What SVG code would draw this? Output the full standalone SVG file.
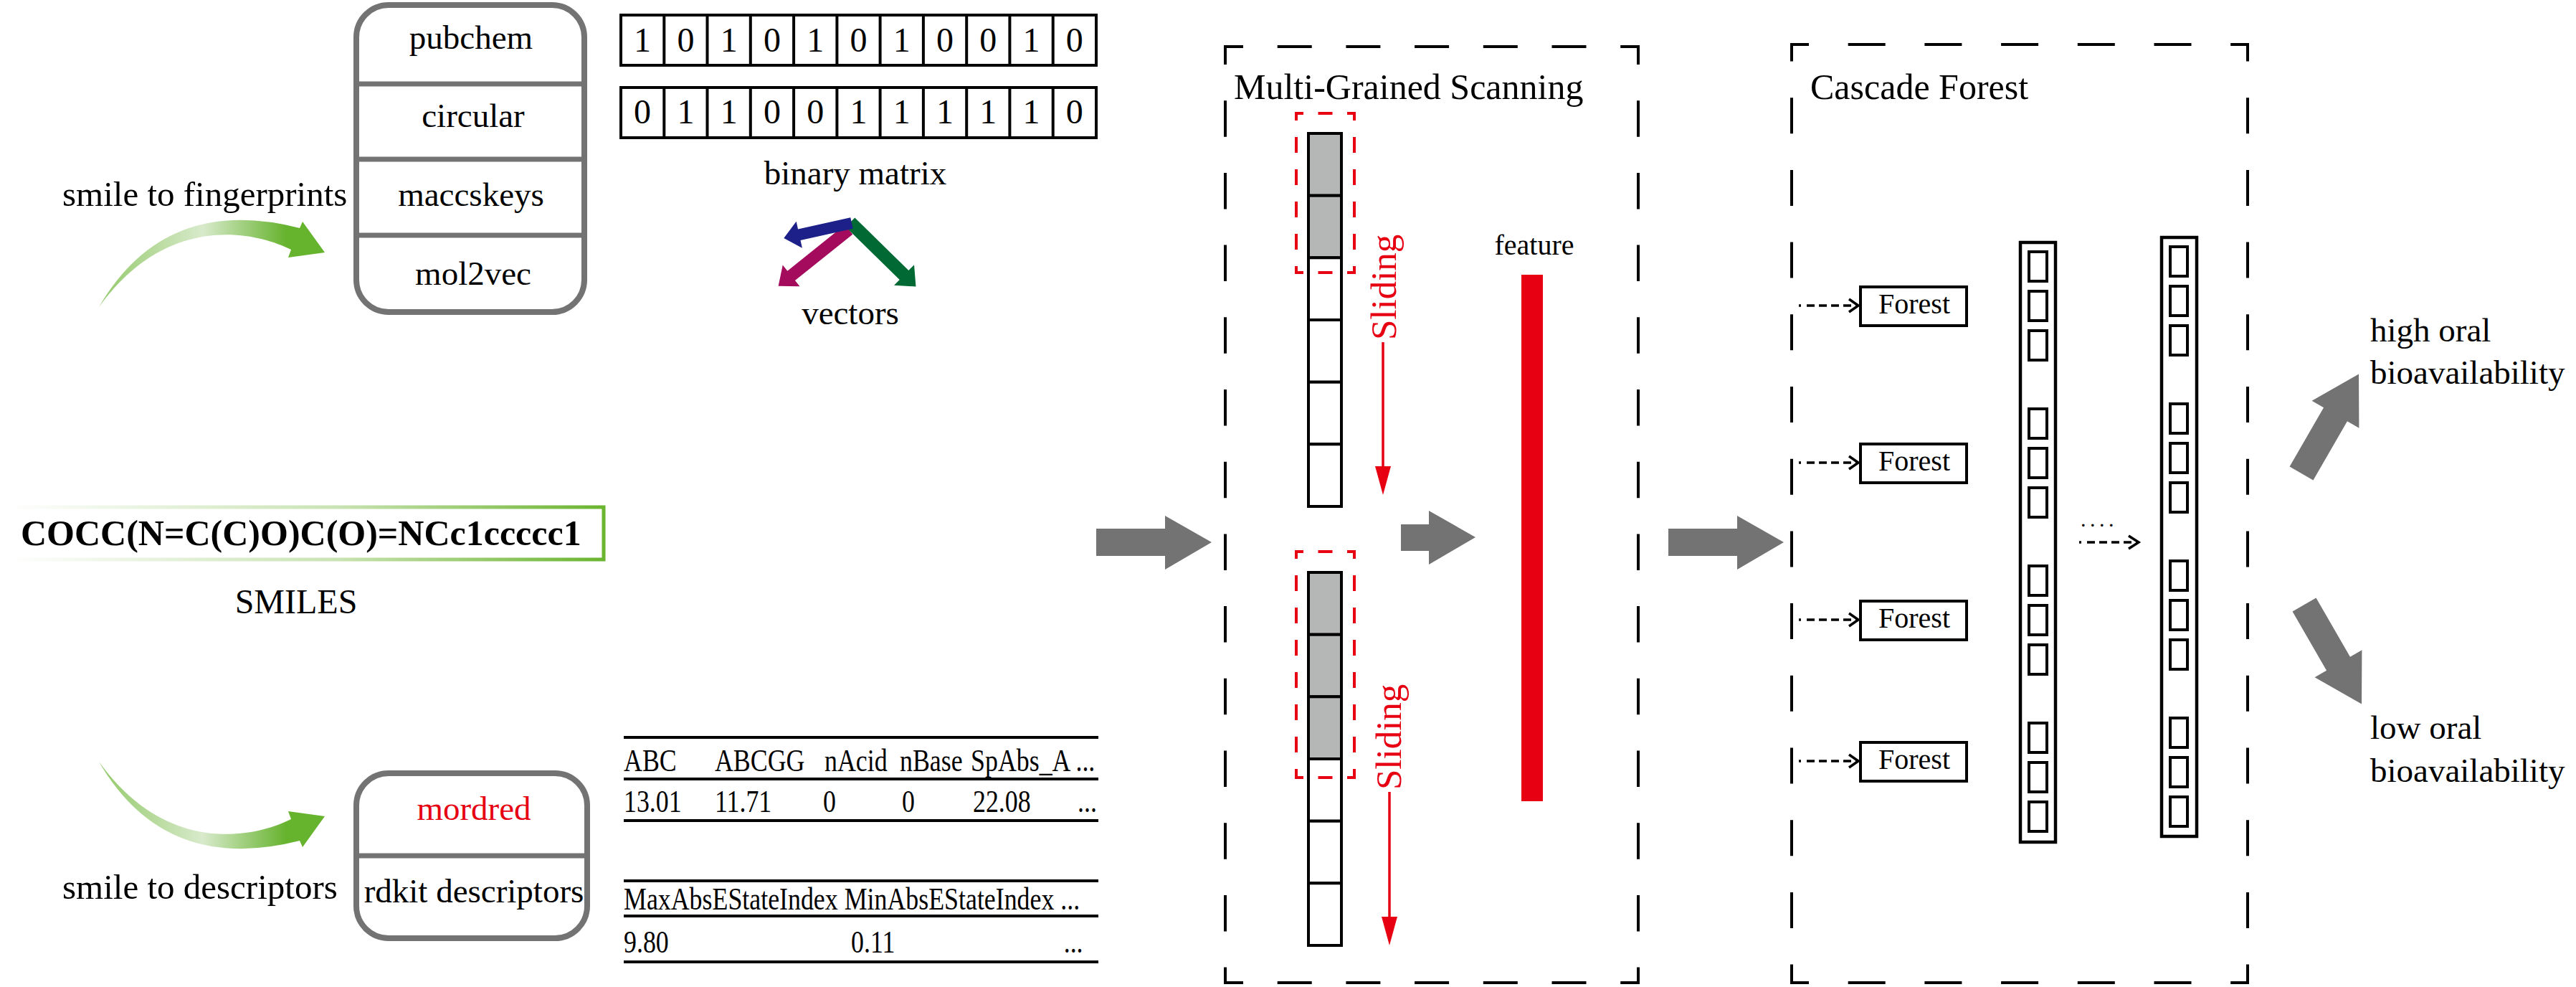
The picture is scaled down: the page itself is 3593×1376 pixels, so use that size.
<svg xmlns="http://www.w3.org/2000/svg" width="3593" height="1376" viewBox="0 0 3593 1376">
<style>
.t{font-family:"Liberation Serif","Times New Roman",serif;fill:#000}
.c{text-anchor:middle}
.f47{font-size:47px}
.f49{font-size:49px}
.f48{font-size:48px}
.f50{font-size:50px}
.f40{font-size:40px}
.red{fill:#e60012}
.gbox{fill:#fff;stroke:#737373;stroke-width:8}
.gdiv{stroke:#737373;stroke-width:7}
.cell{fill:#fff;stroke:#000;stroke-width:4}
.gcell{fill:#b5b6b6;stroke:#000;stroke-width:4}
.bin{fill:none;stroke:#000;stroke-width:4}
.rule{stroke:#000;stroke-width:4}
.dh1{stroke:#000;stroke-width:4;fill:none;stroke-dasharray:48 47.7;stroke-dashoffset:21}
.dv1{stroke:#000;stroke-width:4;fill:none;stroke-dasharray:50.5 50.2;stroke-dashoffset:23.5}
.dh2{stroke:#000;stroke-width:4;fill:none;stroke-dasharray:52 54.7;stroke-dashoffset:26}
.dv2{stroke:#000;stroke-width:4;fill:none;stroke-dasharray:50 50.7;stroke-dashoffset:24.5}
.rh{stroke:#e60012;stroke-width:4;fill:none;stroke-dasharray:20 20.5;stroke-dashoffset:8}
.rv{stroke:#e60012;stroke-width:4;fill:none;stroke-dasharray:22 23;stroke-dashoffset:10}
.gray{fill:#737373}
.dot{stroke:#000;stroke-width:3.5;fill:none;stroke-dasharray:3 8 11 6 11 6 11 6 11 6 11 6}
.chev{stroke:#000;stroke-width:3.5;fill:none}
.fbox{fill:#fff;stroke:#000;stroke-width:4}
.col{fill:#fff;stroke:#000;stroke-width:4.5}
.ccell{fill:#fff;stroke:#000;stroke-width:4}
</style>
<defs>
<linearGradient id="gArrow" gradientUnits="userSpaceOnUse" x1="138" y1="0" x2="453" y2="0">
<stop offset="0" stop-color="#93c96a"/>
<stop offset="0.46" stop-color="#d8eacb"/>
<stop offset="0.83" stop-color="#66b32e"/>
<stop offset="1" stop-color="#66b32e"/>
</linearGradient>
<linearGradient id="gSmiles" gradientUnits="userSpaceOnUse" x1="11" y1="0" x2="844" y2="0">
<stop offset="0" stop-color="#ffffff"/>
<stop offset="0.55" stop-color="#c9e3b3"/>
<stop offset="1" stop-color="#6ab42e"/>
</linearGradient>
<path id="curveArrow" d="M138,428 Q230,270 418,318 L422,309 L453,352 L402,359 L406,348 C350,320 230,300 138,428 Z"/>
<polygon id="bigArrow" points="0,-19 95,-19 95,-38 160,0 95,38 95,19 0,19"/>
<polygon id="grayRight" points="0,-19 96,-19 96,-37 161,0 96,38 96,19 0,19"/>
</defs>
<rect width="3593" height="1376" fill="#fff"/>

<g id="fingerprints">
<rect class="gbox" x="497" y="7" width="318" height="428" rx="45" ry="45"/>
<line class="gdiv" x1="497" y1="117" x2="815" y2="117"/>
<line class="gdiv" x1="497" y1="222" x2="815" y2="222"/>
<line class="gdiv" x1="497" y1="328" x2="815" y2="328"/>
<text class="t f47 c" x="657" y="68">pubchem</text>
<text class="t f47 c" x="660" y="177">circular</text>
<text class="t f47 c" x="657" y="287">maccskeys</text>
<text class="t f47 c" x="660" y="397">mol2vec</text>
</g>

<g id="label-fingerprints">
<text class="t f49" x="87" y="287">smile to fingerprints</text>
<use href="#curveArrow" fill="url(#gArrow)"/>
</g>

<g id="binary-matrix">
<rect class="bin" x="866" y="21" width="663" height="70"/>
<rect class="bin" x="866" y="122" width="663" height="70"/>
<path class="bin" d="M926.3,21V91M986.5,21V91M1046.8,21V91M1107.1,21V91M1167.4,21V91M1227.6,21V91M1287.9,21V91M1348.2,21V91M1408.4,21V91M1468.7,21V91"/>
<path class="bin" d="M926.3,122V192M986.5,122V192M1046.8,122V192M1107.1,122V192M1167.4,122V192M1227.6,122V192M1287.9,122V192M1348.2,122V192M1408.4,122V192M1468.7,122V192"/>
<g class="t f48 c">
<text x="896.1" y="72">1</text><text x="956.4" y="72">0</text><text x="1016.7" y="72">1</text><text x="1077" y="72">0</text><text x="1137.2" y="72">1</text><text x="1197.5" y="72">0</text><text x="1257.8" y="72">1</text><text x="1318" y="72">0</text><text x="1378.3" y="72">0</text><text x="1438.6" y="72">1</text><text x="1498.8" y="72">0</text>
<text x="896.1" y="172">0</text><text x="956.4" y="172">1</text><text x="1016.7" y="172">1</text><text x="1077" y="172">0</text><text x="1137.2" y="172">0</text><text x="1197.5" y="172">1</text><text x="1257.8" y="172">1</text><text x="1318" y="172">1</text><text x="1378.3" y="172">1</text><text x="1438.6" y="172">1</text><text x="1498.8" y="172">0</text>
</g>
<text class="t f47 c" x="1193" y="257">binary matrix</text>
</g>

<g id="vectors">
<polygon fill="#a40b5d" transform="translate(1184,320) rotate(141.3)" points="0,-8.5 103,-8.5 103,-19 126,0 103,19 103,8.5 0,8.5"/>
<polygon fill="#006934" transform="translate(1186,310) rotate(44.4)" points="0,-9 105,-9 105,-20 128,0 105,20 105,9 0,9"/>
<polygon fill="#1d2088" transform="translate(1188,311) rotate(167.5)" points="0,-8 75,-8 75,-19 97,0 75,19 75,8 0,8"/>
<text class="t f47 c" x="1186" y="452">vectors</text>
</g>

<g id="smiles">
<path d="M11,707 H842 V780 H11" fill="none" stroke="url(#gSmiles)" stroke-width="5"/>
<text class="t" x="29" y="760" font-size="50" font-weight="bold">COCC(N=C(C)O)C(O)=NCc1ccccc1</text>
<text class="t f48 c" x="413" y="855">SMILES</text>
</g>

<g id="label-descriptors">
<use href="#curveArrow" fill="url(#gArrow)" transform="translate(0,1490) scale(1,-1)"/>
<text class="t f49" x="87" y="1253">smile to descriptors</text>
</g>

<g id="descriptors">
<rect class="gbox" x="497" y="1078" width="322" height="230" rx="45" ry="45"/>
<line class="gdiv" x1="497" y1="1193" x2="819" y2="1193"/>
<text class="t f47 c red" x="661" y="1143">mordred</text>
<text class="t f47 c" x="661" y="1258">rdkit descriptors</text>
</g>

<g id="descriptor-tables">
<line class="rule" x1="870" y1="1028" x2="1532" y2="1028"/>
<line class="rule" x1="870" y1="1086" x2="1532" y2="1086"/>
<line class="rule" x1="870" y1="1144" x2="1532" y2="1144"/>
<line class="rule" x1="870" y1="1228" x2="1532" y2="1228"/>
<line class="rule" x1="870" y1="1277" x2="1532" y2="1277"/>
<line class="rule" x1="870" y1="1341" x2="1532" y2="1341"/>
<g transform="translate(870,0) scale(0.815,1)" class="t" font-size="44">
<text x="0" y="1075">ABC</text>
<text x="155.8" y="1075">ABCGG</text>
<text x="343.6" y="1075">nAcid</text>
<text x="472.4" y="1075">nBase</text>
<text x="593.9" y="1075">SpAbs_A ...</text>
<text x="0" y="1132">13.01</text>
<text x="155.8" y="1132">11.71</text>
<text x="341" y="1132">0</text>
<text x="476" y="1132">0</text>
<text x="597.5" y="1132">22.08</text>
<text x="776.7" y="1132">...</text>
<text x="0" y="1268">MaxAbsEStateIndex MinAbsEStateIndex ...</text>
<text x="0" y="1328">9.80</text>
<text x="389" y="1328">0.11</text>
<text x="753" y="1328">...</text>
</g>
</g>

<g id="multi-grained-scanning">
<line class="dh1" x1="1707" y1="65" x2="2287" y2="65"/>
<line class="dh1" x1="1707" y1="1370" x2="2287" y2="1370"/>
<line class="dv1" x1="1709" y1="63" x2="1709" y2="1372"/>
<line class="dv1" x1="2285" y1="63" x2="2285" y2="1372"/>
<text class="t f50" x="1721" y="138">Multi-Grained Scanning</text>
</g>

<g id="scan-column-1">
<rect class="gcell" x="1825" y="186" width="46" height="86.7"/>
<rect class="gcell" x="1825" y="272.7" width="46" height="86.6"/>
<rect class="cell" x="1825" y="359.3" width="46" height="86.7"/>
<rect class="cell" x="1825" y="446" width="46" height="86.7"/>
<rect class="cell" x="1825" y="532.7" width="46" height="86.6"/>
<rect class="cell" x="1825" y="619.3" width="46" height="86.7"/>
<line class="rh" x1="1806" y1="158" x2="1891" y2="158"/>
<line class="rh" x1="1806" y1="380" x2="1891" y2="380"/>
<line class="rv" x1="1808" y1="156" x2="1808" y2="382"/>
<line class="rv" x1="1889" y1="156" x2="1889" y2="382"/>
<text class="t red" font-size="51" transform="translate(1947,474) rotate(-90)">Sliding</text>
<line x1="1929" y1="477" x2="1929" y2="655" stroke="#e60012" stroke-width="3.5"/>
<polygon class="red" points="1918,650 1940,650 1929,690"/>
</g>

<g id="scan-column-2">
<rect class="gcell" x="1825" y="798" width="46" height="86.7"/>
<rect class="gcell" x="1825" y="884.7" width="46" height="86.6"/>
<rect class="gcell" x="1825" y="971.3" width="46" height="86.7"/>
<rect class="cell" x="1825" y="1058" width="46" height="86.7"/>
<rect class="cell" x="1825" y="1144.7" width="46" height="86.6"/>
<rect class="cell" x="1825" y="1231.3" width="46" height="86.7"/>
<line class="rh" x1="1806" y1="769" x2="1891" y2="769"/>
<line class="rh" x1="1806" y1="1084" x2="1891" y2="1084"/>
<line class="rv" x1="1808" y1="767" x2="1808" y2="1086"/>
<line class="rv" x1="1889" y1="767" x2="1889" y2="1086"/>
<text class="t red" font-size="51" transform="translate(1954,1101) rotate(-90)">Sliding</text>
<line x1="1938" y1="1104" x2="1938" y2="1283" stroke="#e60012" stroke-width="3.5"/>
<polygon class="red" points="1927,1278 1949,1278 1938,1318"/>
</g>

<g id="feature">
<text class="t f40 c" x="2140" y="355">feature</text>
<rect x="2122" y="383" width="30" height="734" fill="#e60012"/>
</g>

<g id="cascade-forest">
<line class="dh2" x1="2497" y1="62" x2="3137" y2="62"/>
<line class="dh2" x1="2497" y1="1370" x2="3137" y2="1370"/>
<line class="dv2" x1="2499" y1="60" x2="2499" y2="1372"/>
<line class="dv2" x1="3135" y1="60" x2="3135" y2="1372"/>
<text class="t f50" x="2525" y="138">Cascade Forest</text>
</g>

<g id="forest-1">
<rect class="fbox" x="2595" y="400" width="148" height="54"/>
<text class="t f40 c" x="2670" y="437">Forest</text>
</g>
<g id="forest-2">
<rect class="fbox" x="2595" y="619" width="148" height="54"/>
<text class="t f40 c" x="2670" y="656">Forest</text>
</g>
<g id="forest-3">
<rect class="fbox" x="2595" y="838" width="148" height="54"/>
<text class="t f40 c" x="2670" y="875">Forest</text>
</g>
<g id="forest-4">
<rect class="fbox" x="2595" y="1035" width="148" height="54"/>
<text class="t f40 c" x="2670" y="1072">Forest</text>
</g>

<g id="layer-1">
<rect class="col" x="2818" y="338" width="49" height="836"/>
<rect class="ccell" x="2830" y="351" width="25" height="41"/>
<rect class="ccell" x="2830" y="406" width="25" height="41"/>
<rect class="ccell" x="2830" y="461" width="25" height="41"/>
<rect class="ccell" x="2830" y="570" width="25" height="41"/>
<rect class="ccell" x="2830" y="625" width="25" height="41"/>
<rect class="ccell" x="2830" y="680" width="25" height="41"/>
<rect class="ccell" x="2830" y="789" width="25" height="41"/>
<rect class="ccell" x="2830" y="844" width="25" height="41"/>
<rect class="ccell" x="2830" y="899" width="25" height="41"/>
<rect class="ccell" x="2830" y="1008" width="25" height="41"/>
<rect class="ccell" x="2830" y="1063" width="25" height="41"/>
<rect class="ccell" x="2830" y="1118" width="25" height="41"/>
</g>

<g id="layer-2">
<rect class="col" x="3015" y="331" width="49" height="835"/>
<rect class="ccell" x="3027" y="344" width="24" height="41"/>
<rect class="ccell" x="3027" y="399" width="24" height="41"/>
<rect class="ccell" x="3027" y="454" width="24" height="41"/>
<rect class="ccell" x="3027" y="563" width="24" height="41"/>
<rect class="ccell" x="3027" y="618" width="24" height="41"/>
<rect class="ccell" x="3027" y="673" width="24" height="41"/>
<rect class="ccell" x="3027" y="782" width="24" height="41"/>
<rect class="ccell" x="3027" y="837" width="24" height="41"/>
<rect class="ccell" x="3027" y="892" width="24" height="41"/>
<rect class="ccell" x="3027" y="1001" width="24" height="41"/>
<rect class="ccell" x="3027" y="1056" width="24" height="41"/>
<rect class="ccell" x="3027" y="1111" width="24" height="41"/>
</g>

<g id="outputs">
<text class="t f47" x="3306" y="476">high oral</text>
<text class="t f47" x="3306" y="535">bioavailability</text>
<text class="t f47" x="3306" y="1030">low oral</text>
<text class="t f47" x="3306" y="1090">bioavailability</text>
</g>

<g id="connectors">
<use href="#grayRight" class="gray" transform="translate(1529,756)"/>
<polygon class="gray" points="1954,731 1993,731 1993,712 2058,749 1993,787 1993,768 1954,768"/>
<use href="#grayRight" class="gray" transform="translate(2327,756)"/>
<use href="#bigArrow" class="gray" transform="translate(3210,660) rotate(-60)"/>
<use href="#bigArrow" class="gray" transform="translate(3214,843) rotate(60)"/>
<path class="dot" d="M2509,426H2590"/>
<path class="chev" d="M2579,417L2592,426L2579,435"/>
<path class="dot" d="M2509,645H2590"/>
<path class="chev" d="M2579,636L2592,645L2579,654"/>
<path class="dot" d="M2509,864H2590"/>
<path class="chev" d="M2579,855L2592,864L2579,873"/>
<path class="dot" d="M2509,1061H2590"/>
<path class="chev" d="M2579,1052L2592,1061L2579,1070"/>
<text class="t" x="2902" y="734" font-size="30" letter-spacing="5.5">....</text>
<path class="dot" d="M2900,756H2980"/>
<path class="chev" d="M2969,747L2983,756L2969,765"/>
</g>
</svg>
